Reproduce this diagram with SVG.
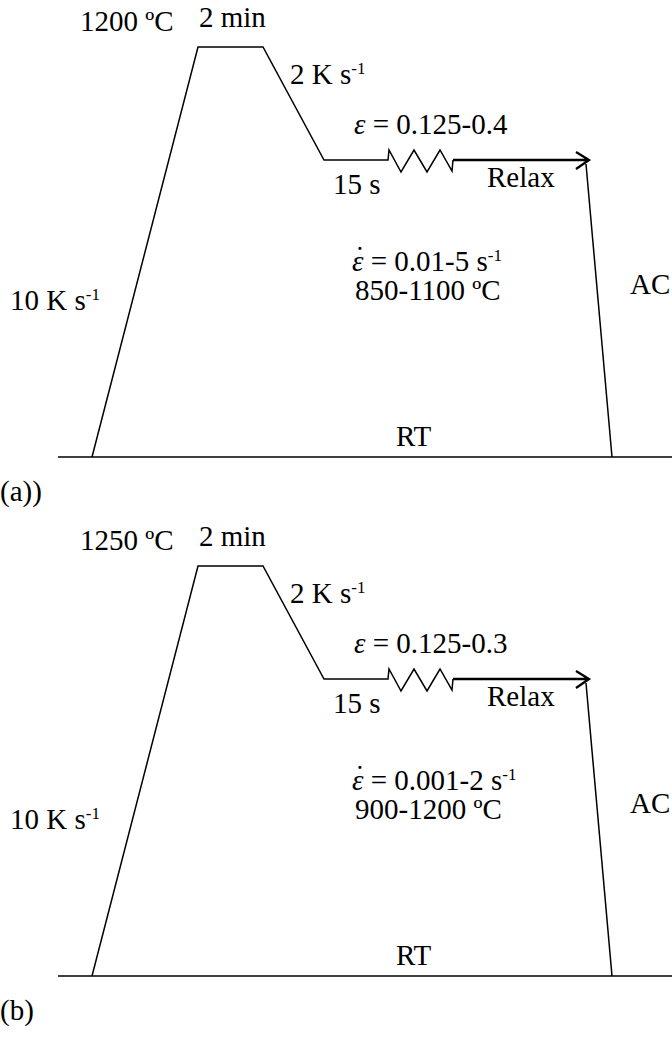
<svg xmlns="http://www.w3.org/2000/svg" width="672" height="1052" viewBox="0 0 672 1052">
<style>
text{font-family:"Liberation Serif","Times New Roman",serif;font-size:29px;fill:#000}
.sup{font-size:17px}
.it{font-style:italic}
.ln{fill:none;stroke:#000;stroke-width:1.5;stroke-linejoin:miter}
.arr{fill:none;stroke:#000;stroke-width:2.3}
</style>
<rect width="672" height="1052" fill="#fff"/>
<g id="panel-a">
  <g id="a-curve">
    <path class="ln" d="M92,457 L198,47 L263,47 L324,160 L388,160 L389,150 L401,172 L414,150 L427,172 L440,150 L452,171 L453,160"/>
    <path class="arr" d="M453,160 L589,160 M576,152 L589,160 L576,169"/>
    <path class="ln" d="M586,164 L612,457"/>
    <path class="ln" d="M58,457 L672,457"/>
  </g>
  <g id="a-labels">
    <text x="199" y="27">2 min</text>
    <text x="80" y="31">1200 ºC</text>
    <text x="290" y="84">2 K s<tspan class="sup" dy="-10">-1</tspan></text>
    <text x="354" y="134"><tspan class="it">ε</tspan> = 0.125-0.4</text>
    <text x="333" y="194">15 s</text>
    <text x="487" y="187">Relax</text>
    <text><tspan x="355" y="267">˙</tspan><tspan class="it" x="352" y="271">ε</tspan> = 0.01-5 s<tspan class="sup" dy="-10">-1</tspan></text>
    <text x="355" y="300">850-1100 ºC</text>
    <text x="10" y="310">10 K s<tspan class="sup" dy="-10">-1</tspan></text>
    <text x="630" y="294">AC</text>
    <text x="396" y="446">RT</text>
    <text x="0" y="501">(a))</text>
  </g>
</g>
<g id="panel-b" transform="translate(0,519)">
  <g id="b-curve">
    <path class="ln" d="M92,457 L198,47 L263,47 L324,160 L388,160 L389,150 L401,172 L414,150 L427,172 L440,150 L452,171 L453,160"/>
    <path class="arr" d="M453,160 L589,160 M576,152 L589,160 L576,169"/>
    <path class="ln" d="M586,164 L612,457"/>
    <path class="ln" d="M58,457 L672,457"/>
  </g>
  <g id="b-labels">
    <text x="199" y="27">2 min</text>
    <text x="80" y="31">1250 ºC</text>
    <text x="290" y="84">2 K s<tspan class="sup" dy="-10">-1</tspan></text>
    <text x="354" y="134"><tspan class="it">ε</tspan> = 0.125-0.3</text>
    <text x="333" y="194">15 s</text>
    <text x="487" y="187">Relax</text>
    <text><tspan x="355" y="267">˙</tspan><tspan class="it" x="352" y="271">ε</tspan> = 0.001-2 s<tspan class="sup" dy="-10">-1</tspan></text>
    <text x="355" y="300">900-1200 ºC</text>
    <text x="10" y="310">10 K s<tspan class="sup" dy="-10">-1</tspan></text>
    <text x="630" y="294">AC</text>
    <text x="396" y="446">RT</text>
    <text x="0" y="501">(b)</text>
  </g>
</g>
</svg>
